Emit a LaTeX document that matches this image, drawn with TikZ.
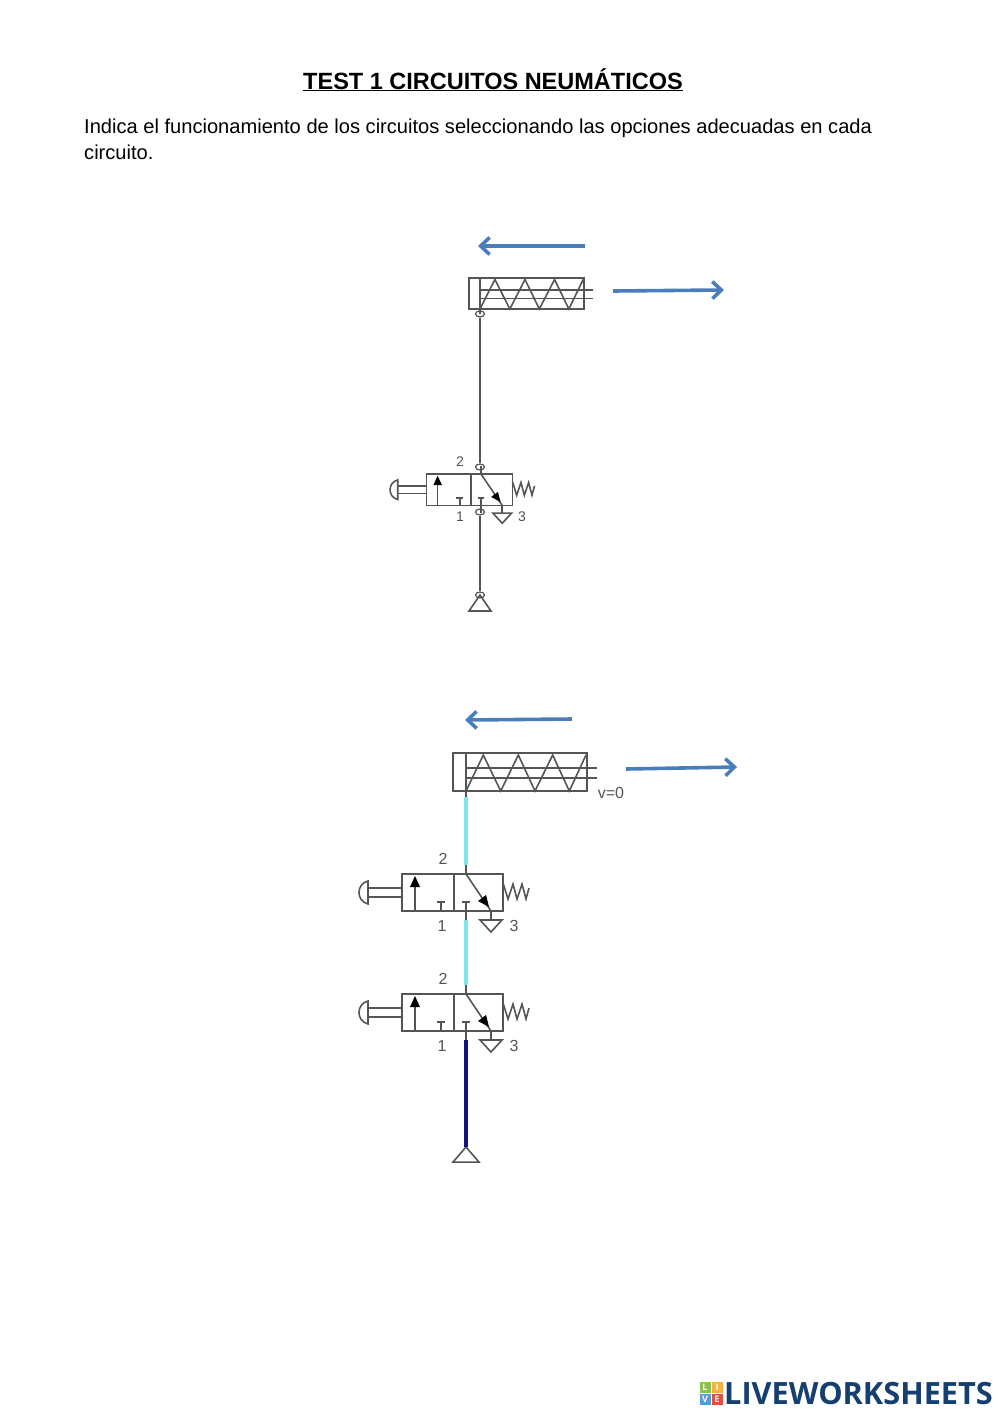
\documentclass[tikz,border=0pt]{standalone}
\usepackage{fontspec}
\setmainfont{Liberation Sans}
\newfontfamily\logofont{Open Sans}
\usetikzlibrary{positioning}
\usetikzlibrary{arrows.meta}
\usetikzlibrary{shapes.geometric}
\definecolor{arrowblue}{HTML}{4A7EBB}
\definecolor{symgray}{HTML}{555555}
\definecolor{airlight}{HTML}{7FE6F2}
\definecolor{airdark}{HTML}{14147E}
\definecolor{logoblue}{HTML}{153F6F}
\definecolor{logoa}{HTML}{8CC152}
\definecolor{logob}{HTML}{F2B33D}
\definecolor{logoc}{HTML}{5B9BD5}
\definecolor{logod}{HTML}{E0503C}
\tikzset{
	sym/.style={draw=symgray,line width=1.6pt},
	pipe/.style={draw=symgray,line width=2pt},
	pipelight/.style={draw=airlight,line width=3.2pt},
	pipedark/.style={draw=airdark,line width=3.6pt},
	motion/.style={draw=arrowblue,line width=3.6pt,-{Straight Barb[length=9pt,width=17pt,line width=3.6pt]}},
	port/.style={ellipse,draw=symgray,line width=1.2pt,minimum width=9pt,minimum height=6pt,inner sep=0pt},
	num/.style={text=symgray,font=\fontsize{16}{16}\selectfont,inner sep=0pt},
	numsmall/.style={text=symgray,font=\fontsize{14}{14}\selectfont,inner sep=0pt},
	logobox/.style={minimum size=11pt,inner sep=0pt,text=white,font=\logofont\bfseries\fontsize{9}{9}\selectfont},
	cylinder/.pic={
		\draw[sym] (-13,-38) rectangle (121,0);
		\draw[sym] (0,-38) -- (0,0);
		\draw[sym] (0,-23) -- (131,-23);
		\draw[sym] (0,-13) -- (131,-13);
		\draw[sym] (0,0) -- (17.3,-36) -- (34.7,0) -- (52.3,-36) -- (69,0) -- (86.7,-36) -- (103.3,0) -- (120,-36);
		\draw[pipe] (0,0) -- (0,6);
		\coordinate (-port) at (0,6);
	},
	valve/.pic={
		\draw[sym] (-64,0) rectangle (37,37);
		\draw[sym] (-12,0) -- (-12,37);
		% push button
		\draw[sym] (-98,14) -- (-64,14);
		\draw[sym] (-98,23) -- (-64,23);
		\draw[sym] (-98,7) .. controls (-110,10) and (-110,27) .. (-98,30) -- cycle;
		% left position
		\draw[sym] (-51,37) -- (-51,12);
		\fill[black] (-51,2) -- (-46,13) -- (-56,13) -- cycle;
		\draw[sym] (-25,37) -- (-25,28);
		\draw[sym] (-29,28) -- (-21,28);
		% right position
		\draw[sym] (0,37) -- (0,28);
		\draw[sym] (-4,28) -- (4,28);
		\draw[sym] (0,0) -- (25,37);
		\fill[black] (23,33) -- (12,27) -- (20,21) -- cycle;
		% exhaust
		\draw[sym] (25,37) -- (25,46);
		\draw[sym] (14,46) -- (36,46) -- (25,58) -- cycle;
		% spring
		\draw[sym] (37,9) -- (42,25) -- (47,10) -- (51,25) -- (56,10) -- (60,25) -- (63,14);
		\draw[pipe] (0,0) -- (0,-9);
		\draw[pipe] (0,37) -- (0,46);
		\coordinate (-up) at (0,-9);
		\coordinate (-down) at (0,46);
	},
	source/.pic={
		\draw[sym] (0,0) -- (11,16) -- (-11,16) -- cycle;
		\coordinate (-top) at (0,0);
	},
}
\begin{document}
\begin{tikzpicture}[x=1pt,y=-1pt]
	\useasboundingbox (0,0) rectangle (1000,1413);

	\node[anchor=base,inner sep=0pt,font=\bfseries\fontsize{23.5}{23.5}\selectfont] (title) at (493,89) {\underline{TEST 1 CIRCUITOS NEUMÁTICOS}};
	\node[anchor=base west,inner sep=0pt,font=\fontsize{20.1}{20.1}\selectfont] (line1) at (84,133) {Indica el funcionamiento de los circuitos seleccionando las opciones adecuadas en cada};
	\node[anchor=base west,inner sep=0pt,font=\fontsize{20.1}{20.1}\selectfont] (line2) at (84,159) {circuito.};

	% first circuit
	\pic[xscale=.86,yscale=.82] (cyl1) at (480,309) {cylinder};
	\pic[scale=.85] (valve1) at (481,474) {valve};
	\pic (src1) at (480,595) {source};
	\node[port] (p1) at (cyl1-port) {};
	\node[port] (p2) at (480,467) {};
	\node[port] (p3) at (480,512) {};
	\node[port] (p4) at (src1-top) {};
	\draw[pipe] (p1) -- (p2);
	\draw[pipe] (p3) -- (p4);
	\node[numsmall] (n2a) at (460,462) {2};
	\node[numsmall] (n1a) at (460,517) {1};
	\node[numsmall] (n3a) at (522,517) {3};

	\coordinate (m1a) at (585,246);
	\coordinate (m1b) at (478,246);
	\coordinate (m2a) at (613,291);
	\coordinate (m2b) at (724,290);
	\draw[motion] (m1a) -- (m1b);
	\draw[motion] (m2a) -- (m2b);

	% second circuit
	\pic (cyl2) at (466,791) {cylinder};
	\pic (valve2) at (466,874) {valve};
	\pic (valve3) at (466,994) {valve};
	\pic[xscale=1.18,yscale=.94] (src2) at (466,1147) {source};
	\draw[pipelight] (cyl2-port) -- (valve2-up);
	\draw[pipelight] (valve2-down) -- (valve3-up);
	\draw[pipedark] (valve3-down) -- (src2-top);
	\node[num] (v0) at (611,793) {v=0};
	\node[num] (n2b) at (443,859) {2};
	\node[num] (n1b) at (442,926) {1};
	\node[num] (n3b) at (514,926) {3};
	\node[num] (n2c) at (443,979) {2};
	\node[num] (n1c) at (442,1046) {1};
	\node[num] (n3c) at (514,1046) {3};

	\coordinate (m3a) at (572,719);
	\coordinate (m3b) at (465,720);
	\coordinate (m4a) at (626,769);
	\coordinate (m4b) at (737,767);
	\draw[motion] (m3a) -- (m3b);
	\draw[motion] (m4a) -- (m4b);

	% logo
	\node[logobox,fill=logoa] (logoL) at (705,1387.5) {L};
	\node[logobox,fill=logob] (logoI) at (717,1387.5) {I};
	\node[logobox,fill=logoc] (logoV) at (705,1399) {V};
	\node[logobox,fill=logod] (logoE) at (717,1399) {E};
	\node[anchor=base west,inner sep=0pt,text=logoblue,font=\logofont\bfseries\fontsize{30.7}{30.7}\selectfont] (logo) at (724,1404) {LIVEWORKSHEETS};
\end{tikzpicture}
\end{document}
